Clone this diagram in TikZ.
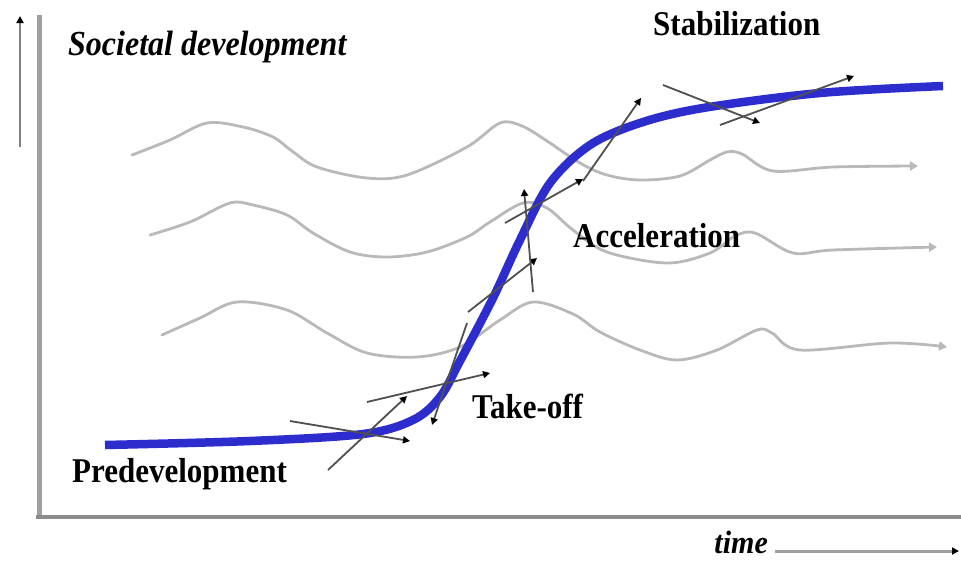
\documentclass[tikz,border=0pt]{standalone}
\usepackage{fontspec}
\setmainfont{Liberation Serif}
\usepackage{graphicx}
\usetikzlibrary{arrows.meta}
\definecolor{curveblue}{RGB}{45,45,205}
\definecolor{wavegray}{RGB}{185,185,185}
\definecolor{arrgray}{RGB}{80,80,80}
\definecolor{axisgray}{RGB}{160,160,160}
\begin{document}
\begin{tikzpicture}[x=1pt,y=-1pt,
  wave/.style={draw=wavegray, line width=2.8pt, line cap=round, line join=round,
    -{Triangle[length=8pt,width=9pt,color=wavegray]}},
  tang/.style={draw=arrgray, line width=1.8pt,
    -{Triangle[length=7pt,width=7pt,color=black]}},
  lbl/.style={font=\fontsize{31}{31}\selectfont\bfseries, inner sep=0pt, anchor=base west},
  ilbl/.style={font=\fontsize{32}{32}\selectfont\bfseries\itshape, inner sep=0pt, anchor=base west}]
\useasboundingbox (0,0) rectangle (961,560);
\fill[white] (0,0) rectangle (961,560);

% axes
\coordinate (vtop) at (39,15);
\coordinate (origin) at (39,517);
\coordinate (hend) at (961,517);
\draw[axisgray, line width=5pt] (vtop) -- (39,519);
\draw[color={rgb,255:red,140;green,140;blue,140}, line width=4pt] (36,517) -- (hend);
\coordinate (ya) at (20,147);
\coordinate (yb) at (20,16);
\draw[draw={rgb,255:red,130;green,130;blue,130}, line width=2.6pt, -{Triangle[length=7pt,width=7pt,color=black]}] (ya) -- (yb);
\coordinate (ta) at (775,551);
\coordinate (tb) at (959,551);
\draw[draw=axisgray, line width=3pt, -{Triangle[length=7pt,width=7pt,color=black]}] (ta) -- (tb);

% gray waves
\draw[wave] plot[smooth, tension=0.55] coordinates {(132,155) (170,140) (207,123) (243,127) (273,137) (292,151) (317,167) (367,178) (407,175) (467,147) (500,123) (522,126) (547,141) (580,163) (607,175) (640,180) (680,176) (710,160) (727,152) (742,154) (773,171) (833,167) (918,166)};
\draw[wave] plot[smooth, tension=0.55] coordinates {(150,235) (190,222) (230,203) (253,205) (287,215) (313,233) (350,252) (387,257) (427,252) (467,237) (490,222) (523,203) (547,208) (573,230) (607,252) (667,263) (710,253) (735,236) (755,233) (793,253) (833,250) (937,247)};
\draw[wave] plot[smooth, tension=0.55] coordinates {(162,335) (200,318) (237,302) (287,310) (327,333) (367,353) (417,357) (460,347) (500,320) (533,302) (573,314) (600,332) (640,350) (677,360) (717,350) (757,330) (772,333) (800,350) (890,343) (947,347)};

% blue S-curve
\draw[curveblue, line width=8.5pt] plot[smooth, tension=0.55] coordinates {(105,445) (250,441) (363,434) (413,420) (440,397) (460,361) (493,298) (520,240) (550,183) (590,145) (640,123) (703,108) (820,93) (943,86)};

% tangent arrows
\coordinate (a1s) at (290,421); \coordinate (a1e) at (410,441);
\coordinate (a2s) at (328,470); \coordinate (a2e) at (407,396);
\coordinate (a3s) at (367,402); \coordinate (a3e) at (490,373);
\coordinate (a4s) at (467,323); \coordinate (a4e) at (432,425);
\coordinate (a5s) at (468,312); \coordinate (a5e) at (537,258);
\coordinate (a6s) at (533,292); \coordinate (a6e) at (524,189);
\coordinate (a7s) at (505,223); \coordinate (a7e) at (583,179);
\coordinate (a8s) at (583,181); \coordinate (a8e) at (641,98);
\coordinate (a9s) at (663,85);  \coordinate (a9e) at (760,123);
\coordinate (a10s) at (720,125); \coordinate (a10e) at (854,76);
\foreach \i in {1,...,10} {\draw[tang] (a\i s) -- (a\i e);}

% labels
\node[ilbl] (soc) at (68,55) {\scalebox{1}[1.1]{Societal development}};
\node[lbl] (stab) at (653,35) {\scalebox{1}[1.12]{Stabilization}};
\node[lbl] (acc) at (573,247) {\scalebox{1}[1.12]{Acceleration}};
\node[lbl] (take) at (472,418) {\scalebox{1}[1.12]{Take-off}};
\node[lbl] (pre) at (72,482) {\scalebox{1}[1.12]{Predevelopment}};
\node[font=\fontsize{30}{30}\selectfont\bfseries\itshape, inner sep=0pt, anchor=base east] (time) at (768,553) {\scalebox{1}[1.08]{time}};
\end{tikzpicture}
\end{document}
